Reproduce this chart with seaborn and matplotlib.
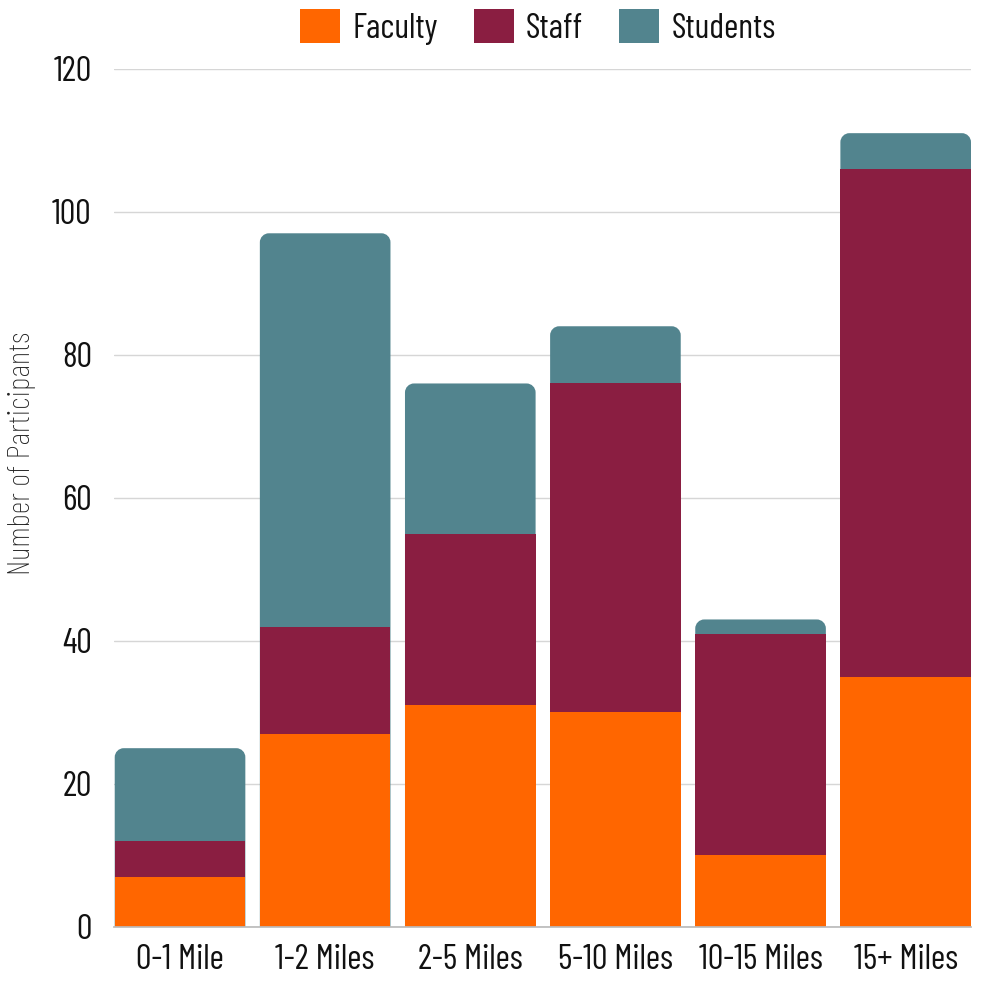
import matplotlib
matplotlib.use("Agg")
import matplotlib.pyplot as plt
from matplotlib.patches import PathPatch, Patch
from matplotlib.path import Path
import seaborn as sns
import pandas as pd
import numpy as np

categories = ["0-1 Mile", "1-2 Miles", "2-5 Miles", "5-10 Miles", "10-15 Miles", "15+ Miles"]
faculty = [7, 27, 31, 30, 10, 35]
staff = [5, 15, 24, 46, 31, 71]
students = [13, 55, 21, 8, 2, 5]

groups = ["Faculty", "Staff", "Students"]
colors = {"Faculty": "#FF6600", "Staff": "#8A1E41", "Students": "#52848E"}

sns.set_theme(style="white")
plt.rcParams["font.family"] = ["Barlow Condensed", "Barlow Semi Condensed",
                               "Roboto Condensed", "DejaVu Sans"]

df = pd.DataFrame({"Distance": categories, "Faculty": faculty, "Staff": staff, "Students": students})
df["Staff_top"] = df["Faculty"] + df["Staff"]
df["Students_top"] = df["Staff_top"] + df["Students"]

fig = plt.figure(figsize=(9.81, 9.83), dpi=100)
ax = fig.add_axes([0.1162, 0.057, 0.8736, 0.873])

# stacked bars: draw the cumulative totals from tallest to shortest
bar_kw = dict(width=0.9, saturation=1, linewidth=0, ax=ax)
n_before = len(ax.patches)
sns.barplot(data=df, x="Distance", y="Students_top", color=colors["Students"], zorder=3, **bar_kw)
student_patches = ax.patches[n_before:]
sns.barplot(data=df, x="Distance", y="Staff_top", color=colors["Staff"], zorder=4, **bar_kw)
sns.barplot(data=df, x="Distance", y="Faculty", color=colors["Faculty"], zorder=5, **bar_kw)

ax.set_xlim(-0.455, 5.45)
ax.set_ylim(0, 120)

# round the top corners of each stack
r_px = 9
inv = ax.transData.inverted()
ox, oy = ax.transData.transform((0, 0))
rx = abs(inv.transform((ox + r_px, oy))[0])
ry = abs(inv.transform((ox, oy + r_px))[1])
k = 0.5523
for p in list(student_patches):
    x0, w = p.get_x(), p.get_width()
    y0, h = p.get_y(), p.get_height()
    x1, y1 = x0 + w, y0 + h
    verts = [
        (x0, y0), (x1, y0), (x1, y1 - ry),
        (x1, y1 - ry + k * ry), (x1 - rx + k * rx, y1), (x1 - rx, y1),
        (x0 + rx, y1),
        (x0 + rx - k * rx, y1), (x0, y1 - ry + k * ry), (x0, y1 - ry),
        (x0, y0),
    ]
    codes = [Path.MOVETO, Path.LINETO, Path.LINETO,
             Path.CURVE4, Path.CURVE4, Path.CURVE4,
             Path.LINETO,
             Path.CURVE4, Path.CURVE4, Path.CURVE4,
             Path.CLOSEPOLY]
    rounded = PathPatch(Path(verts, codes), facecolor=colors["Students"],
                        edgecolor="none", zorder=3)
    p.remove()
    ax.add_patch(rounded)

ax.set_yticks(np.arange(0, 121, 20))
ax.yaxis.grid(True, color="#D6D6D6", linewidth=1.0, zorder=0)
ax.set_axisbelow(True)
for s in ["top", "right", "left"]:
    ax.spines[s].set_visible(False)
ax.spines["bottom"].set_color("#BBBBBB")
ax.spines["bottom"].set_zorder(6)
ax.tick_params(axis="both", length=0, labelsize=25, colors="#111111")
ax.tick_params(axis="y", pad=16)
ax.tick_params(axis="x", pad=12)
ax.set_xlabel("")
ax.set_ylabel("Number of Participants", fontsize=23, color="#222222", fontweight="light")
ax.yaxis.set_label_coords(-0.091, 0.552)

handles = [Patch(facecolor=colors[g], edgecolor="none") for g in groups]
fig.legend(handles, groups, loc="center", bbox_to_anchor=(0.5484, 0.9725),
           ncol=3, frameon=False, fontsize=25, handlelength=1.15, handleheight=1.15,
           handletextpad=0.35, columnspacing=1.04, borderaxespad=0.0,
           labelcolor="#111111")

fig.savefig("out.png", dpi=100)
